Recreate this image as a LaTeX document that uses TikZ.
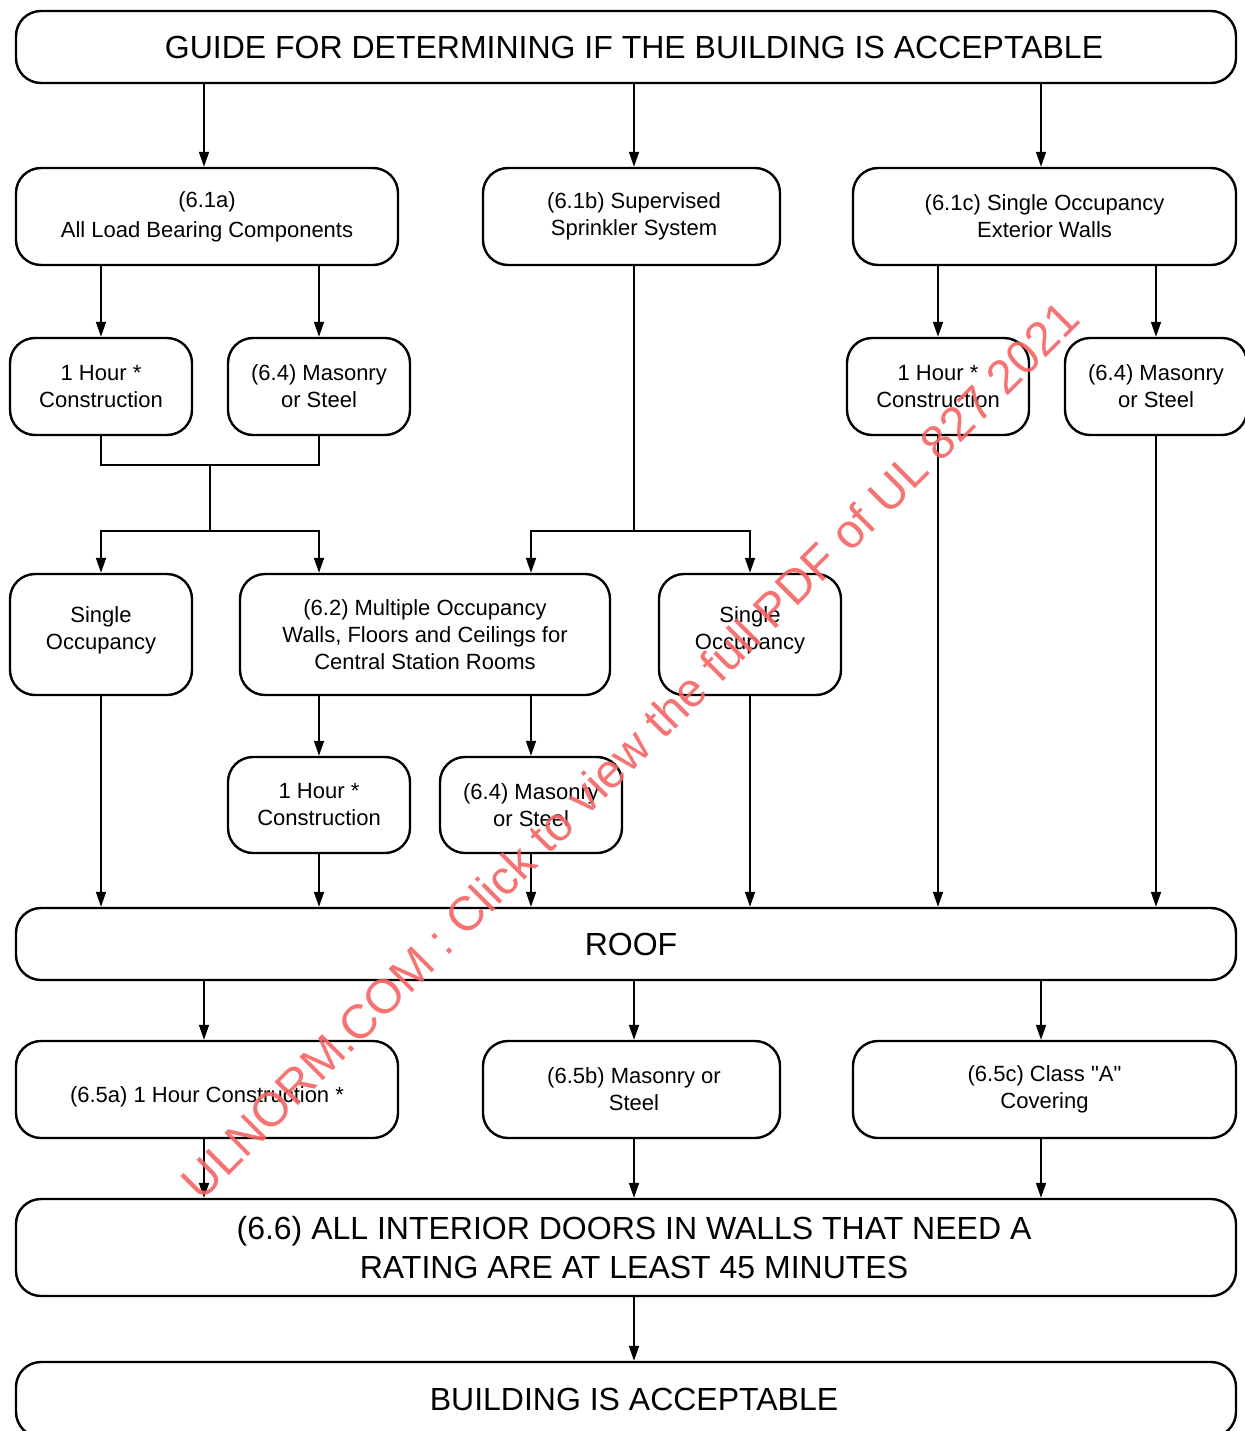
\documentclass[tikz,border=0pt]{standalone}
\usepackage{fontspec}
\setmainfont{Liberation Sans}
\usetikzlibrary{arrows.meta,calc}
\definecolor{wmark}{RGB}{245,100,100}
\tikzset{
  fbox/.style={draw, line width=2.4pt, rounded corners=25pt, align=center, inner sep=0pt},
  smalltxt/.style={font=\fontsize{22}{27}\selectfont},
  bigtxt/.style={font=\fontsize{32}{39}\selectfont},
  conn/.style={line width=1.8pt},
  arr/.style={line width=1.8pt, -{Triangle[length=15pt,width=10pt]}},
}
\begin{document}
\begin{tikzpicture}[x=1pt,y=-1pt]
\useasboundingbox (0,0) rectangle (1244,1431);
% top
\node[fbox,bigtxt,minimum width=1220pt,minimum height=72pt] (top) at (626,47) {\hspace*{16pt}GUIDE FOR DETERMINING IF THE BUILDING IS ACCEPTABLE};
% row 2
\node[fbox,smalltxt,minimum width=382pt,minimum height=97pt] (A) at (207,216.5) {(6.1a)\\[3pt]All Load Bearing Components};
\node[fbox,smalltxt,minimum width=297pt,minimum height=97pt] (B) at (631.5,216.5) {\hspace*{5pt}(6.1b) Supervised\\\hspace*{5pt}Sprinkler System};
\node[fbox,smalltxt,minimum width=383pt,minimum height=97pt] (C) at (1044.5,216.5) {(6.1c) Single Occupancy\\Exterior Walls};
% row 3
\node[fbox,smalltxt,minimum width=182pt,minimum height=97pt] (h1a) at (101,386.5) {1 Hour *\\Construction};
\node[fbox,smalltxt,minimum width=182pt,minimum height=97pt] (m1a) at (319,386.5) {(6.4) Masonry\\or Steel};
\node[fbox,smalltxt,minimum width=182pt,minimum height=97pt] (h1c) at (938,386.5) {1 Hour *\\Construction};
\node[fbox,smalltxt,minimum width=182pt,minimum height=97pt] (m1c) at (1156,386.5) {(6.4) Masonry\\or Steel};
% row 4
\node[fbox,smalltxt,minimum width=182pt,minimum height=121pt] (so1) at (101,634.5) {Single\\Occupancy\\[-15pt]\mbox{}};
\node[fbox,smalltxt,minimum width=370pt,minimum height=121pt] (r62) at (425,634.5) {(6.2) Multiple Occupancy\\Walls, Floors and Ceilings for\\Central Station Rooms};
\node[fbox,smalltxt,minimum width=182pt,minimum height=121pt] (so2) at (750,634.5) {Single\\Occupancy\\[-15pt]\mbox{}};
% row 5
\node[fbox,smalltxt,minimum width=182pt,minimum height=96pt] (h2) at (319,805) {1 Hour *\\Construction};
\node[fbox,smalltxt,minimum width=182pt,minimum height=96pt] (ms2) at (531,805) {(6.4) Masonry\\or Steel};
% roof
\node[fbox,bigtxt,minimum width=1220pt,minimum height=72pt] (roof) at (626,944) {\hspace*{10pt}ROOF};
% row 6
\node[fbox,smalltxt,minimum width=382pt,minimum height=97pt] (b5a) at (207,1089.5) {\raisebox{-12.5pt}[0pt][0pt]{(6.5a) 1 Hour Construction *}};
\node[fbox,smalltxt,minimum width=297pt,minimum height=97pt] (b5b) at (631.5,1089.5) {\hspace*{5pt}(6.5b) Masonry or\\\hspace*{5pt}Steel};
\node[fbox,smalltxt,minimum width=383pt,minimum height=97pt] (b5c) at (1044.5,1089.5) {(6.5c) Class \textquotedbl A\textquotedbl\\Covering};
% 6.6
\node[fbox,bigtxt,minimum width=1220pt,minimum height=97pt] (b66) at (626,1247.5) {\hspace*{16pt}(6.6) ALL INTERIOR DOORS IN WALLS THAT NEED A\\\hspace*{16pt}RATING ARE AT LEAST 45 MINUTES};
\node[fbox,bigtxt,minimum width=1220pt,minimum height=75pt] (fin) at (626,1399.5) {\hspace*{16pt}BUILDING IS ACCEPTABLE};
% junctions
\coordinate (j1) at (210,465);
\coordinate (j2) at (210,531);
\coordinate (j3) at (634,531);
% connectors
\draw[arr] ([xshift=-3pt]top.south -| A) -- ([xshift=-3pt]A.north);
\draw[arr] ([xshift=2.5pt]top.south -| B) -- ([xshift=2.5pt]B.north);
\draw[arr] ([xshift=-3.5pt]top.south -| C) -- ([xshift=-3.5pt]C.north);
\draw[arr] (A.south -| h1a) -- (h1a.north);
\draw[arr] (A.south -| m1a) -- (m1a.north);
\draw[arr] (C.south -| h1c) -- (h1c.north);
\draw[arr] (C.south -| m1c) -- (m1c.north);
\draw[conn] (h1a.south) |- (j1) -| (m1a.south);
\draw[conn] (j1) -- (j2);
\draw[arr] (j2) -| (so1.north);
\draw[arr] (j2) -| (r62.north -| h2);
\draw[conn] (B.south -| j3) -- (j3);
\draw[arr] (j3) -| (r62.north -| ms2);
\draw[arr] (j3) -| (so2.north);
\draw[arr] (r62.south -| h2) -- (h2.north);
\draw[arr] (r62.south -| ms2) -- (ms2.north);
\draw[arr] (so1.south) -- (so1.south |- roof.north);
\draw[arr] (h2.south) -- (h2.south |- roof.north);
\draw[arr] (ms2.south) -- (ms2.south |- roof.north);
\draw[arr] (so2.south) -- (so2.south |- roof.north);
\draw[arr] (h1c.south) -- (h1c.south |- roof.north);
\draw[arr] (m1c.south) -- (m1c.south |- roof.north);
\draw[arr] ([xshift=-3pt]roof.south -| b5a) -- ([xshift=-3pt]b5a.north);
\draw[arr] ([xshift=2.5pt]roof.south -| b5b) -- ([xshift=2.5pt]b5b.north);
\draw[arr] ([xshift=-3.5pt]roof.south -| b5c) -- ([xshift=-3.5pt]b5c.north);
\draw[arr] ([xshift=-3pt]b5a.south) -- ([xshift=-3pt]b5a.south |- b66.north);
\draw[arr] ([xshift=2.5pt]b5b.south) -- ([xshift=2.5pt]b5b.south |- b66.north);
\draw[arr] ([xshift=-3.5pt]b5c.south) -- ([xshift=-3.5pt]b5c.south |- b66.north);
\draw[arr] ([xshift=2.5pt]b66.south -| B) -- ([xshift=2.5pt]fin.north -| B);
% watermark
\node[text=wmark, opacity=0.9, rotate=45, font=\fontsize{48}{48}\selectfont, inner sep=0pt] (wm) at (630,750) {ULNORM.COM : Click to view the full PDF of UL 827 2021};
\end{tikzpicture}
\end{document}
